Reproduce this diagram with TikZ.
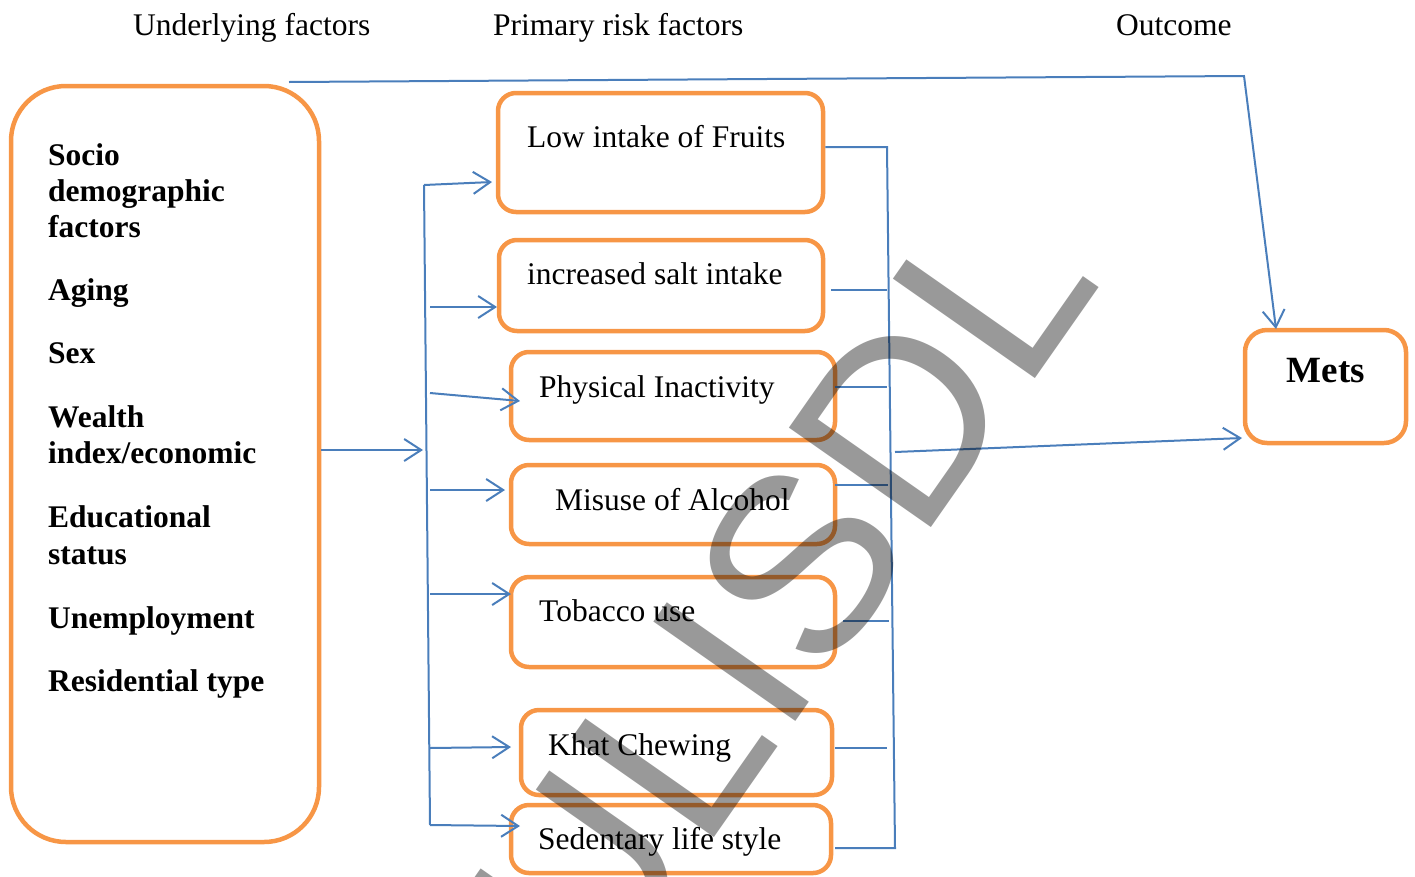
\documentclass[tikz,border=0pt]{standalone}
\usepackage{fontspec}
\setmainfont{Liberation Serif}
\newfontfamily\wmfont{Liberation Sans}
\usetikzlibrary{arrows.meta}
\definecolor{orng}{RGB}{247,150,70}
\definecolor{blu}{RGB}{74,126,187}
\begin{document}
\begin{tikzpicture}[x=1pt,y=-1pt,
  box/.style={draw=orng, line width=4.5pt, rounded corners=18pt, inner sep=0pt},
  lbl/.style={anchor=base west, inner sep=0pt, font=\fontsize{31.5}{36}\selectfont},
  blbl/.style={anchor=base west, inner sep=0pt, font=\fontsize{31.5}{36}\selectfont\bfseries},
  conn/.style={draw=blu, line width=2pt},
  arr/.style={conn, -{Straight Barb[length=17pt,width=22pt]}},
]
\useasboundingbox (0,0) rectangle (1415,876);
% headers
\node[lbl] (h1) at (133,35) {Underlying factors};
\node[lbl] (h2) at (493,35) {Primary risk factors};
\node[lbl] (h3) at (1116,35) {Outcome};
% big box
\node[box, rounded corners=55pt, minimum width=308pt, minimum height=756pt] (big) at (165,464) {};
\node[blbl] (s1) at (48,165) {Socio};
\node[blbl] (s2) at (48,201) {demographic};
\node[blbl] (s3) at (48,237) {factors};
\node[blbl] (s4) at (48,300) {Aging};
\node[blbl] (s5) at (48,363) {Sex};
\node[blbl] (s6) at (48,427) {Wealth};
\node[blbl] (s7) at (48,463) {index/economic};
\node[blbl] (s8) at (48,527) {Educational};
\node[blbl] (s9) at (48,564) {status};
\node[blbl] (s10) at (48,628) {Unemployment};
\node[blbl] (s11) at (48,691) {Residential type};
% risk factor boxes
\node[box, minimum width=325pt, minimum height=119pt] (b1) at (660.5,152.5) {};
\node[box, minimum width=324pt, minimum height=91pt] (b2) at (661,285.5) {};
\node[box, minimum width=324pt, minimum height=88pt] (b3) at (673,396) {};
\node[box, minimum width=324pt, minimum height=79pt] (b4) at (673,504.5) {};
\node[box, minimum width=324pt, minimum height=90pt] (b5) at (673,622) {};
\node[box, minimum width=311pt, minimum height=85pt] (b6) at (676.5,752.5) {};
\node[box, minimum width=320pt, minimum height=68pt] (b7) at (671,839) {};
\node[lbl] (l1) at (527,147) {Low intake of Fruits};
\node[lbl] (l2) at (527,284) {increased salt intake};
\node[lbl] (l3) at (539,397) {Physical Inactivity};
\node[lbl] (l4) at (555,510) {Misuse of Alcohol};
\node[lbl] (l5) at (539,621) {Tobacco use};
\node[lbl] (l6) at (548,755) {Khat Chewing};
\node[lbl] (l7) at (538,849) {Sedentary life style};
% outcome
\node[box, rounded corners=22pt, minimum width=161pt, minimum height=113pt] (mets) at (1325.5,386.5) {};
\node[anchor=base, inner sep=0pt, font=\fontsize{37}{40}\selectfont\bfseries] (mt) at (1326,382) {Mets};
% left bus
\coordinate (bin) at (423,450);
\draw[arr] (big.east |- bin) -- (bin);
\coordinate (lt) at (424,185);
\coordinate (lb) at (430,825);
\coordinate (a1) at (492,182);
\coordinate (a7) at (520,826);
\draw[arr] (lt) -- (a1);
\draw[conn] (lt) -- (lb);
\draw[arr] (lb) -- (a7);
\coordinate (a2) at (497,307);
\coordinate (a3) at (520,401);
\coordinate (a4) at (505,490);
\coordinate (a5) at (511,594);
\coordinate (a6) at (511,747);
\draw[arr] (430,307) -- (a2);
\draw[arr] (430,393) -- (a3);
\draw[arr] (430,490) -- (a4);
\draw[arr] (430,594) -- (a5);
\draw[arr] (430,748) -- (a6);
% right bus
\coordinate (rt) at (887,147);
\coordinate (rb) at (895,848);
\draw[conn] (b1.east |- rt) -- (rt) -- (rb) -- (835,848);
\draw[conn] (831,290) -- (887,290);
\draw[conn] (835,387) -- (887,387);
\draw[conn] (835,485) -- (888,485);
\draw[conn] (843,621) -- (889,621);
\draw[conn] (835,748) -- (887,748);
\coordinate (ro) at (895,452);
\coordinate (mi) at (1242,438);
\draw[arr] (ro) -- (mi);
% top connector
\coordinate (t0) at (289,82);
\coordinate (t1) at (1244,76);
\coordinate (mtop) at (1276,329);
\draw[arr] (t0) -- (t1) -- (mtop);
% watermark
\begin{scope}
\clip (0,0) rectangle (1415,876);
\node[rotate=55, anchor=base west, inner sep=0pt, text=black, text opacity=0.4, font=\fontsize{252}{252}\selectfont\wmfont] (wm) at (598,1004) {ULISDL};
\end{scope}
\end{tikzpicture}
\end{document}
